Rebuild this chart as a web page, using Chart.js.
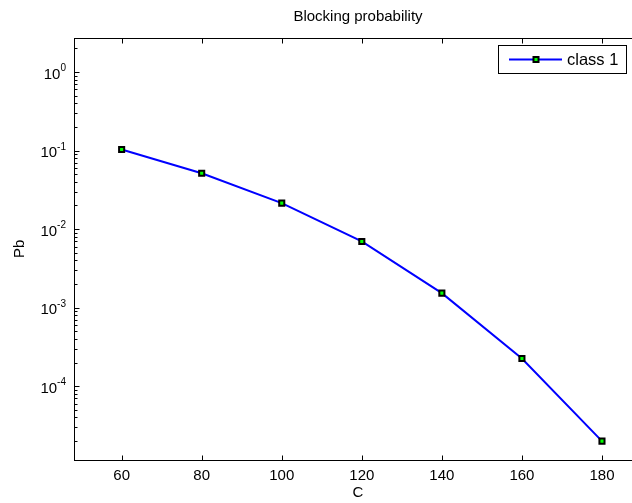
<!DOCTYPE html>
<html>
<head>
<meta charset="utf-8">
<script src="https://cdn.jsdelivr.net/npm/chart.js@4"></script>
<style>
  html, body { margin: 0; padding: 0; background: #fff; overflow: hidden; }
  canvas { display: block; }
</style>
</head>
<body>
<canvas id="pbChart" width="660" height="503"></canvas>
<script>
const capacity = [60, 80, 100, 120, 140, 160, 180];
const blocking = [0.103, 0.0514, 0.0214, 0.00697, 0.00153, 0.000225, 0.0000200];
const xTicks = [60, 80, 100, 120, 140, 160, 180];
const yExponents = [-4, -3, -2, -1, 0];
const seriesName = 'class 1';

const FONT = "'Liberation Sans', Arial, sans-serif";

// matlab style: ticks pointing in, box round the axes, legend inside
const matlabAxes = {
  id: 'matlabAxes',
  afterDraw(chart) {
    const { ctx, chartArea: a, scales: { x, y } } = chart;
    ctx.save();
    ctx.strokeStyle = '#000';
    ctx.lineWidth = 1;
    const L = Math.round(a.left) + 0.5, R = Math.round(a.right) + 0.5;
    const T = Math.round(a.top) + 0.5, B = Math.round(a.bottom) + 0.5;
    ctx.strokeRect(L, T, R - L, B - T);

    ctx.beginPath();
    x.ticks.forEach(t => {
      const px = Math.round(x.getPixelForValue(t.value)) + 0.5;
      ctx.moveTo(px, B); ctx.lineTo(px, B - 5);
      ctx.moveTo(px, T); ctx.lineTo(px, T + 5);
    });
    y.ticks.forEach(t => {
      const e = Math.log10(t.value);
      const len = Math.abs(e - Math.round(e)) < 1e-6 ? 5 : 3;
      const py = Math.round(y.getPixelForValue(t.value)) + 0.5;
      ctx.moveTo(L, py); ctx.lineTo(L + len, py);
      ctx.moveTo(R, py); ctx.lineTo(R - len, py);
    });
    ctx.stroke();

    // y tick labels as 10^n
    ctx.fillStyle = '#000';
    ctx.textBaseline = 'alphabetic';
    yExponents.forEach(n => {
      const py = y.getPixelForValue(Math.pow(10, n));
      const exp = n < 0 ? '-' + Math.abs(n) : String(n);
      ctx.font = '10px ' + FONT;
      const ew = ctx.measureText(exp).width;
      ctx.textAlign = 'right';
      ctx.fillText(exp, 66, py - 1);
      ctx.font = '15px ' + FONT;
      ctx.fillText('10', 66 - ew, py + 6.5);
    });

    // legend
    const lx = 498.5, ly = 45.5, lw = 128, lh = 28;
    ctx.fillStyle = '#fff';
    ctx.fillRect(lx, ly, lw, lh);
    ctx.strokeRect(lx, ly, lw, lh);
    const ds = chart.data.datasets[0];
    const my = ly + lh / 2;
    ctx.beginPath();
    ctx.strokeStyle = ds.borderColor;
    ctx.lineWidth = ds.borderWidth;
    ctx.moveTo(509, my); ctx.lineTo(562, my);
    ctx.stroke();
    ctx.fillStyle = ds.pointBackgroundColor;
    ctx.strokeStyle = ds.pointBorderColor;
    ctx.lineWidth = ds.pointBorderWidth;
    ctx.fillRect(533.5, my - 2.5, 5, 5);
    ctx.strokeRect(533.5, my - 2.5, 5, 5);
    ctx.fillStyle = '#000';
    ctx.font = '16.5px ' + FONT;
    ctx.textAlign = 'left';
    ctx.textBaseline = 'middle';
    ctx.fillText(ds.label, 567, my + 1);
    ctx.restore();
  }
};

new Chart(document.getElementById('pbChart'), {
  type: 'line',
  data: {
    datasets: [{
      label: seriesName,
      data: capacity.map((c, i) => ({ x: c, y: blocking[i] })),
      borderColor: '#0000ff',
      borderWidth: 2,
      tension: 0,
      pointStyle: 'rect',
      pointRadius: 3.6,
      pointBorderWidth: 2,
      pointBorderColor: '#000',
      pointBackgroundColor: '#00ff00',
      clip: false
    }]
  },
  options: {
    responsive: false,
    animation: false,
    devicePixelRatio: 1,
    layout: { padding: { left: 0, right: 18, top: 0, bottom: 0 } },
    plugins: {
      legend: { display: false },
      tooltip: { enabled: false },
      title: {
        display: true,
        fullSize: false,
        text: 'Blocking probability',
        color: '#000',
        font: { family: FONT, size: 15, weight: 'normal' },
        padding: { top: 8, bottom: 11.5 }
      }
    },
    scales: {
      x: {
        type: 'linear',
        min: 48.1,
        max: 190,
        afterBuildTicks: s => { s.ticks = xTicks.map(v => ({ value: v })); },
        afterFit: s => { s.height = 43; },
        grid: { display: false, drawTicks: false },
        border: { display: false },
        ticks: { color: '#000', font: { family: FONT, size: 15 }, padding: 7, maxRotation: 0 },
        title: { display: true, text: 'C', color: '#000', font: { family: FONT, size: 15 }, padding: { top: 0, bottom: 1 } }
      },
      y: {
        type: 'logarithmic',
        min: 1.15e-5,
        max: 2.75,
        afterBuildTicks: s => {
          const t = [];
          for (let e = -5; e <= 0; e++) {
            for (let m = 1; m <= 9; m++) {
              const v = m * Math.pow(10, e);
              if (v >= s.min && v <= s.max) t.push({ value: v });
            }
          }
          s.ticks = t;
        },
        afterFit: s => { s.width = 74; },
        grid: { display: false, drawTicks: false },
        border: { display: false },
        ticks: { display: false },
        title: { display: true, text: 'Pb', color: '#000', font: { family: FONT, size: 15 }, padding: { top: 11, bottom: 0 } }
      }
    }
  },
  plugins: [matlabAxes]
});
</script>
</body>
</html>
